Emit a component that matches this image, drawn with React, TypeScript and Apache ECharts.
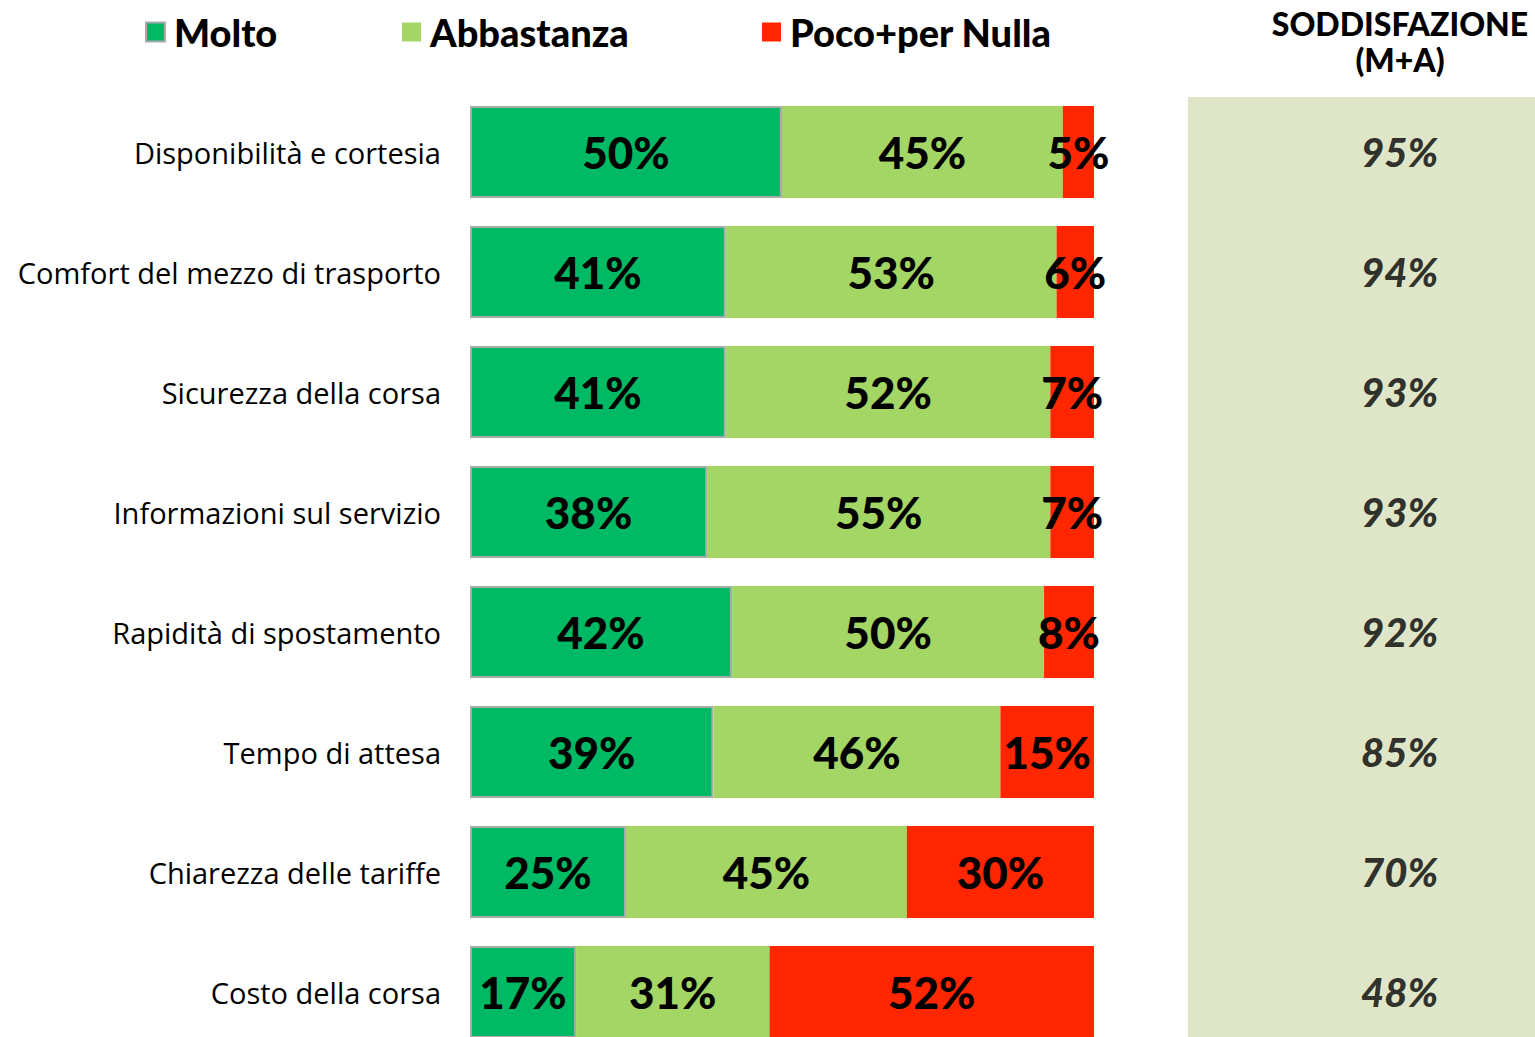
import React, { useEffect, useRef } from "react";
import * as echarts from "echarts";

const categories = [
  "Disponibilità e cortesia",
  "Comfort del mezzo di trasporto",
  "Sicurezza della corsa",
  "Informazioni sul servizio",
  "Rapidità di spostamento",
  "Tempo di attesa",
  "Chiarezza delle tariffe",
  "Costo della corsa",
];
const molto = [50, 41, 41, 38, 42, 39, 25, 17];
const abbastanza = [45, 53, 52, 55, 50, 46, 45, 31];
const pocoNulla = [5, 6, 7, 7, 8, 15, 30, 52];
const soddisfazione = [95, 94, 93, 93, 92, 85, 70, 48];

const GREEN = "#00B964";
const LIGHT = "#A3D664";
const RED = "#FF2600";

export default function App() {
  const ref = useRef<HTMLDivElement>(null);
  useEffect(() => {
    document.body.style.margin = "0";
    document.body.style.overflow = "hidden";
    const chart = echarts.init(ref.current!, null, { renderer: "svg" });
    const labelFont = {
      show: true,
      position: "inside",
      formatter: "{c}%",
      color: "#000",
      fontFamily: "Lato",
      fontWeight: 900,
      fontSize: 44,
    };
    const legendBase = {
      top: 13,
      padding: 0,
      itemWidth: 19,
      itemHeight: 19,
      icon: "rect",
      textStyle: {
        fontFamily: "Lato",
        fontWeight: 900,
        fontSize: 38,
        color: "#000",
        padding: [0, 0, 0, 4],
      },
    };
    chart.setOption({
      animation: false,
      backgroundColor: "#fff",
      graphic: [
        {
          type: "rect",
          shape: { x: 1188, y: 97, width: 347, height: 960 },
          style: { fill: "#DFE6C8" },
          z: -10,
        },
        {
          type: "text",
          x: 1400,
          y: 5,
          style: {
            text: "SODDISFAZIONE\n(M+A)",
            fill: "#000",
            font: "900 32px Lato",
            align: "center",
            lineHeight: 36,
          },
        },
      ],
      legend: [
        { ...legendBase, left: 145, data: [{ name: "Molto", itemStyle: { borderColor: "#AAAAAA", borderWidth: 2 } }] },
        { ...legendBase, left: 402, data: ["Abbastanza"] },
        { ...legendBase, left: 762, data: ["Poco+per Nulla"] },
      ],
      grid: [
        { left: 470, width: 624, top: 92, height: 960 },
        { left: 1188, width: 347, top: 92, height: 960 },
      ],
      xAxis: [
        { type: "value", min: 0, max: 100, show: false, gridIndex: 0 },
        { type: "value", min: 0, max: 1, show: false, gridIndex: 1 },
      ],
      yAxis: [
        {
          type: "category",
          data: categories,
          inverse: true,
          gridIndex: 0,
          axisLine: { show: false },
          axisTick: { show: false },
          axisLabel: {
            margin: 29,
            color: "#000",
            fontFamily: "Open Sans",
            fontSize: 29,
          },
        },
        {
          type: "category",
          data: categories,
          inverse: true,
          gridIndex: 1,
          show: false,
        },
      ],
      series: [
        {
          name: "Molto",
          type: "bar",
          stack: "a",
          data: molto,
          barWidth: 92,
          itemStyle: { color: GREEN, borderColor: "#AAAAAA", borderWidth: 2 },
          label: labelFont,
        },
        {
          name: "Abbastanza",
          type: "bar",
          stack: "a",
          data: abbastanza,
          barWidth: 92,
          itemStyle: { color: LIGHT },
          label: labelFont,
        },
        {
          name: "Poco+per Nulla",
          type: "bar",
          stack: "a",
          data: pocoNulla,
          barWidth: 92,
          itemStyle: { color: RED },
          label: labelFont,
        },
        {
          name: "Soddisfazione",
          type: "scatter",
          xAxisIndex: 1,
          yAxisIndex: 1,
          symbolSize: 0,
          data: soddisfazione.map((v, i) => [0.61, categories[i], v]),
          label: {
            show: true,
            position: "inside",
            formatter: (p: any) => p.value[2] + "%",
            color: "#000",
            fontFamily: "Lato",
            fontWeight: 900,
            fontStyle: "italic",
            fontSize: 40,
          },
        },
      ],
    });
    return () => chart.dispose();
  }, []);
  return (
    <div style={{ position: "absolute", left: 0, top: 0, width: 1535, height: 1037, overflow: "hidden" }}>
      <div ref={ref} style={{ width: 1535, height: 1052 }} />
    </div>
  );
}
